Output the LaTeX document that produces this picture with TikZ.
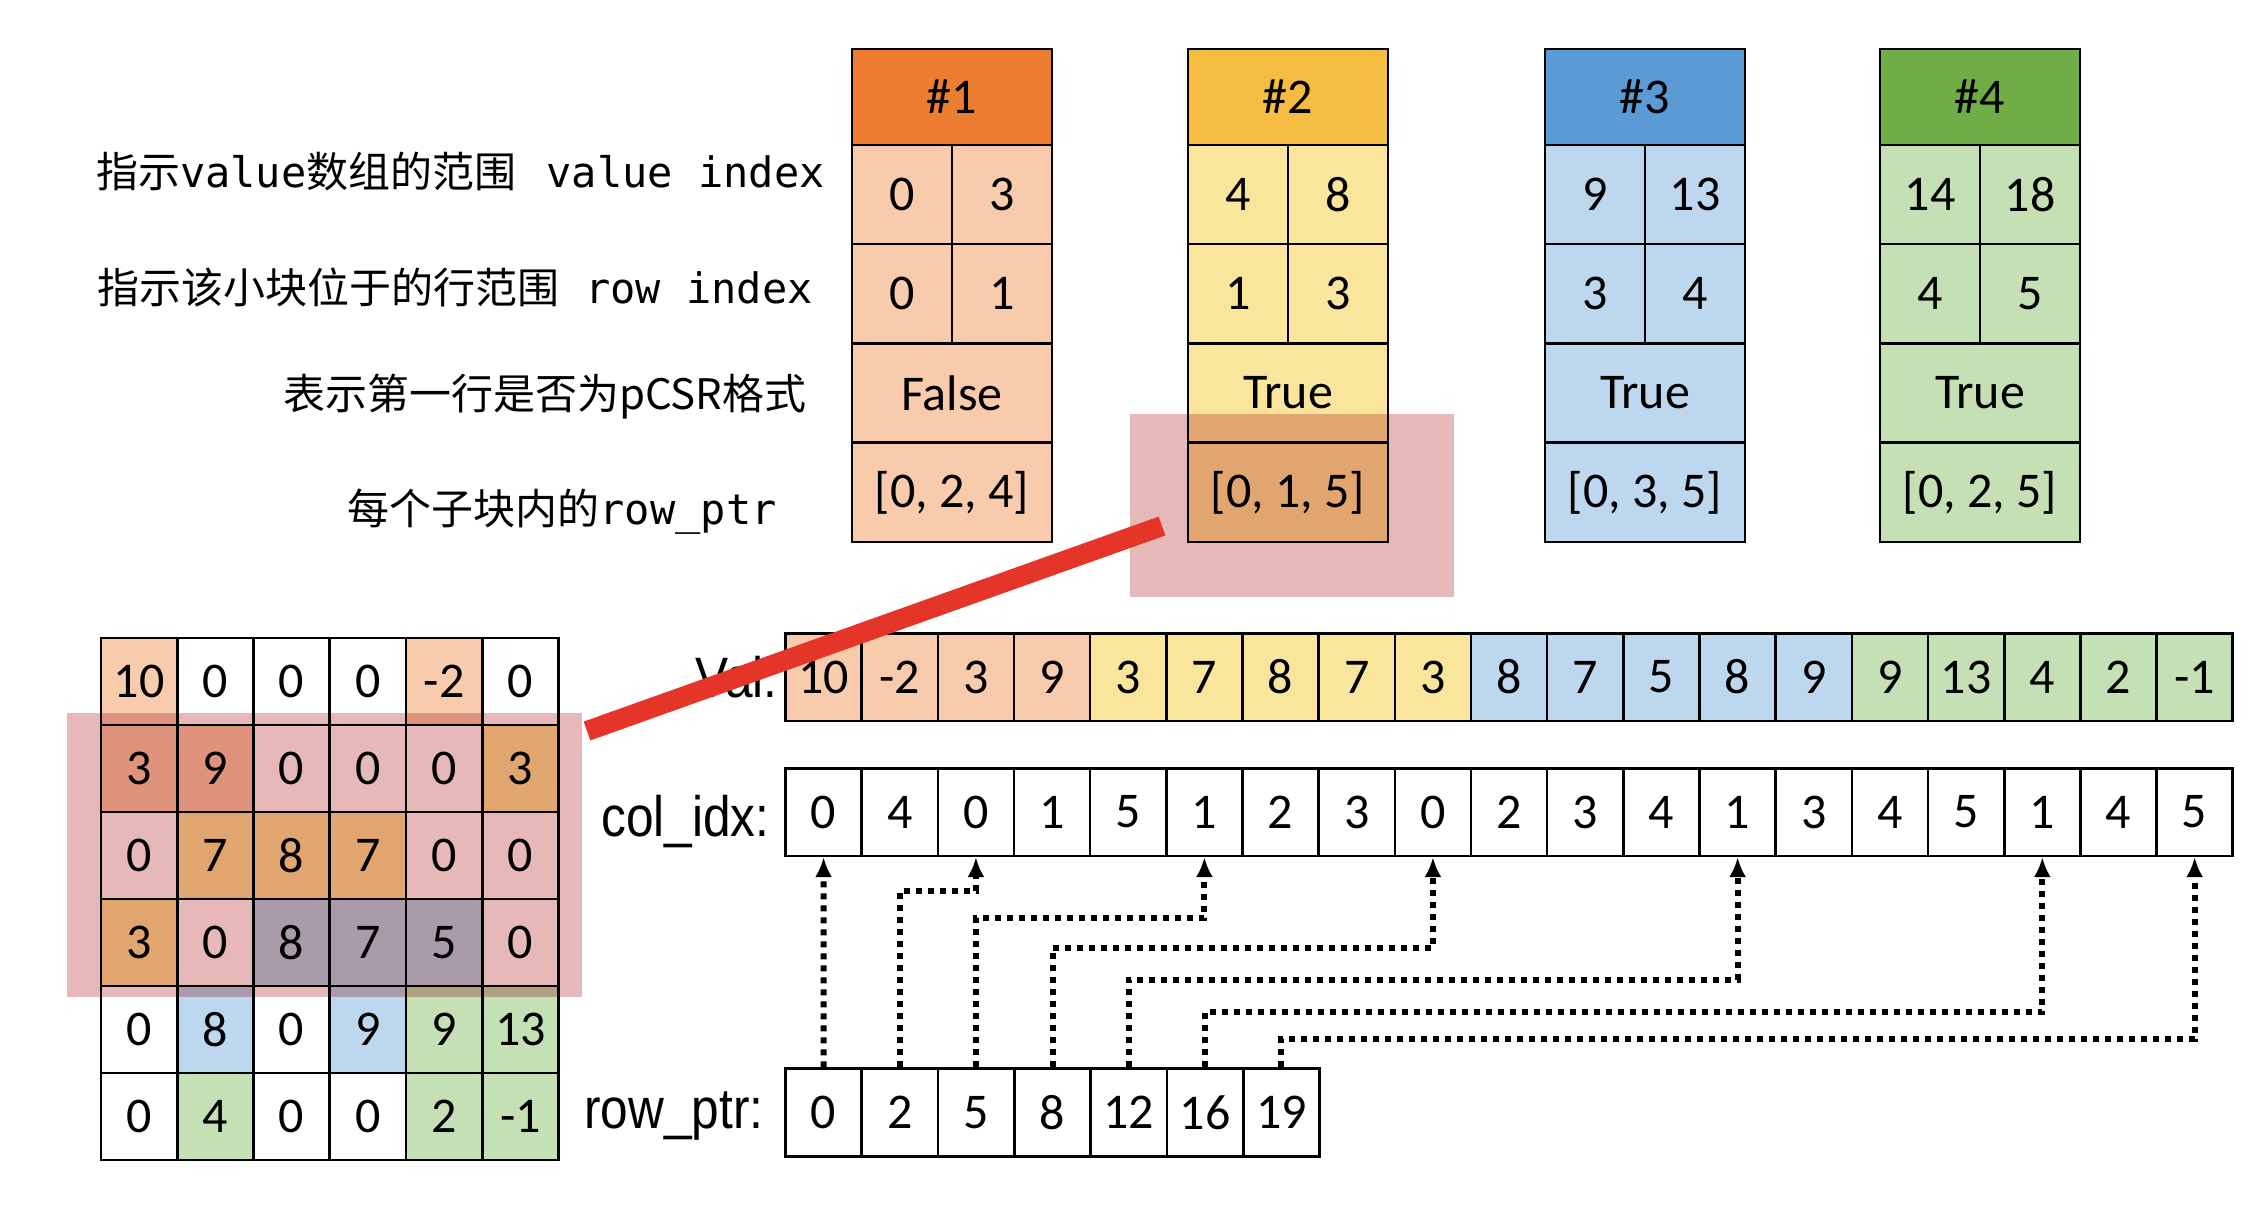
\documentclass[tikz,border=0pt]{standalone}
\usepackage{fontspec}
\setmainfont{Carlito}
\newfontfamily\cjkfont{Noto Sans CJK SC}
\newfontfamily\monofont{DejaVu Sans Mono}
\newfontfamily\labfont[FakeStretch=0.87]{Liberation Sans}
\usetikzlibrary{arrows.meta,calc}
\definecolor{or1}{HTML}{ED7D31}
\definecolor{or2}{HTML}{F8CBAD}
\definecolor{ye1}{HTML}{F4BD41}
\definecolor{ye2}{HTML}{FAE59C}
\definecolor{bl1}{HTML}{5B9BD5}
\definecolor{bl2}{HTML}{BDD7EE}
\definecolor{gr1}{HTML}{70AD47}
\definecolor{gr2}{HTML}{C5E0B4}
\definecolor{hl}{HTML}{E6B8B7}
\definecolor{redln}{HTML}{E53528}
\tikzset{
  cellbox/.style={draw=black, line width=1.3pt, inner sep=0pt, font=\fontsize{25pt}{30pt}\selectfont},
  arrcell/.style={cellbox, minimum width=38.1pt, minimum height=43.8pt},
  matcell/.style={cellbox, minimum width=38.1pt, minimum height=43.5pt},
  wholecell/.style={cellbox, minimum width=100pt, minimum height=49.5pt},
  halfcell/.style={cellbox, minimum width=50pt, minimum height=49.5pt},
  headcell/.style={cellbox, minimum width=100pt, minimum height=48pt},
  cjklabel/.style={anchor=east, inner sep=0pt, font=\cjkfont\fontsize{21pt}{25pt}\selectfont},
  arrlabel/.style={anchor=base east, inner sep=0pt, font=\labfont\fontsize{28.5pt}{32pt}\selectfont},
  ptr/.style={line width=3pt, dash pattern=on 3pt off 3pt, -{Latex[length=10pt,width=8.5pt]}},
}
\begin{document}
\begin{tikzpicture}[x=0.5pt,y=-0.5pt]
\useasboundingbox (0,0) rectangle (2260,1226);
% ---- info blocks ----
\foreach \x/\n/\hc/\lc/\t/\a/\b/\c/\d/\e/\f in {
  852/1/or1/or2/{\#1}/0/3/0/1/False/{[0, 2, 4]},
  1188/2/ye1/ye2/{\#2}/4/8/1/3/True/{[0, 1, 5]},
  1545/3/bl1/bl2/{\#3}/9/13/3/4/True/{[0, 3, 5]},
  1880/4/gr1/gr2/{\#4}/14/18/4/5/True/{[0, 2, 5]}}{
  \node[headcell, fill=\hc] (h\n) at (\x+100,97) {\t};
  \node[halfcell, fill=\lc] (va\n) at (\x+50,194.5) {\a};
  \node[halfcell, fill=\lc] (vb\n) at (\x+150,194.5) {\b};
  \node[halfcell, fill=\lc] (ra\n) at (\x+50,293.5) {\c};
  \node[halfcell, fill=\lc] (rb\n) at (\x+150,293.5) {\d};
  \node[wholecell, fill=\lc] (fl\n) at (\x+100,393) {\e};
  \node[wholecell, fill=\lc] (rp\n) at (\x+100,492.5) {\f};
}
% ---- left labels ----
\node[cjklabel] (lab1) at (825,172) {指示{\monofont value}数组的范围\hspace{15pt}{\monofont value index}};
\node[cjklabel] (lab2) at (813,287) {指示该小块位于的行范围\hspace{13pt}{\monofont row index}};
\node[cjklabel] (lab3) at (807,397) {表示第一行是否为pCSR格式};
\node[cjklabel] (lab4) at (777,512) {每个子块内的{\monofont row\_ptr}};
% ---- matrix ----
\foreach \rowlist [count=\r from 0] in {
  {10/or2,0/white,0/white,0/white,-2/or2,0/white},
  {3/or2,9/or2,0/white,0/white,0/white,3/ye2},
  {0/white,7/ye2,8/ye2,7/ye2,0/white,0/white},
  {3/ye2,0/white,8/bl2,7/bl2,5/bl2,0/white},
  {0/white,8/bl2,0/white,9/bl2,9/gr2,13/gr2},
  {0/white,4/gr2,0/white,0/white,2/gr2,-1/gr2}}{
  \foreach \v/\col [count=\c from 0] in \rowlist {
    \node[matcell, fill=\col] (m\r\c) at (101+76.25*\c+38.125, 638+87*\r+43.5) {\v};
  }
}
% ---- arrays ----
\foreach \v/\col [count=\i from 0] in {10/or2,-2/or2,3/or2,9/or2,3/ye2,7/ye2,8/ye2,7/ye2,3/ye2,8/bl2,7/bl2,5/bl2,8/bl2,9/bl2,9/gr2,13/gr2,4/gr2,2/gr2,-1/gr2}{
  \node[arrcell, fill=\col] (v\i) at (785.5+76.17*\i+38.08, 677) {\v};
}
\foreach \v [count=\i from 0] in {0,4,0,1,5,1,2,3,0,2,3,4,1,3,4,5,1,4,5}{
  \node[arrcell, fill=white] (c\i) at (785.5+76.17*\i+38.08, 812) {\v};
}
\foreach \v [count=\i from 0] in {0,2,5,8,12,16,19}{
  \node[arrcell, fill=white] (r\i) at (785.5+76.3*\i+38.15, 1112.5) {\v};
}
\node[arrlabel] (lval) at (778,697) {Val:};
\node[arrlabel] (lcol) at (770,836) {col\_idx:};
\node[arrlabel] (lrow) at (764,1128) {row\_ptr:};
% ---- pointers ----
\draw[ptr] (r0.north) -- (c0.south);
\draw[ptr] (r1.north) -- (r1.north |- 0,891) -| (c2.south);
\draw[ptr] (r2.north) -- (r2.north |- 0,918) -| (c5.south);
\draw[ptr] (r3.north) -- (r3.north |- 0,948) -| (c8.south);
\draw[ptr] (r4.north) -- (r4.north |- 0,980) -| (c12.south);
\draw[ptr] (r5.north) -- (r5.north |- 0,1012) -| (c16.south);
\draw[ptr] (r6.north) -- (r6.north |- 0,1039) -| (c18.south);
% ---- highlights ----
\begin{scope}[blend mode=multiply]
  \fill[hl] (1130,414) rectangle (1454,597);
  \fill[hl] (67,713) rectangle (582,997);
\end{scope}
% ---- red link ----
\coordinate (redA) at (1162,526);
\coordinate (redB) at (587,731);
\draw[redln, line width=10pt] (redA) -- (redB);
\end{tikzpicture}
\end{document}
